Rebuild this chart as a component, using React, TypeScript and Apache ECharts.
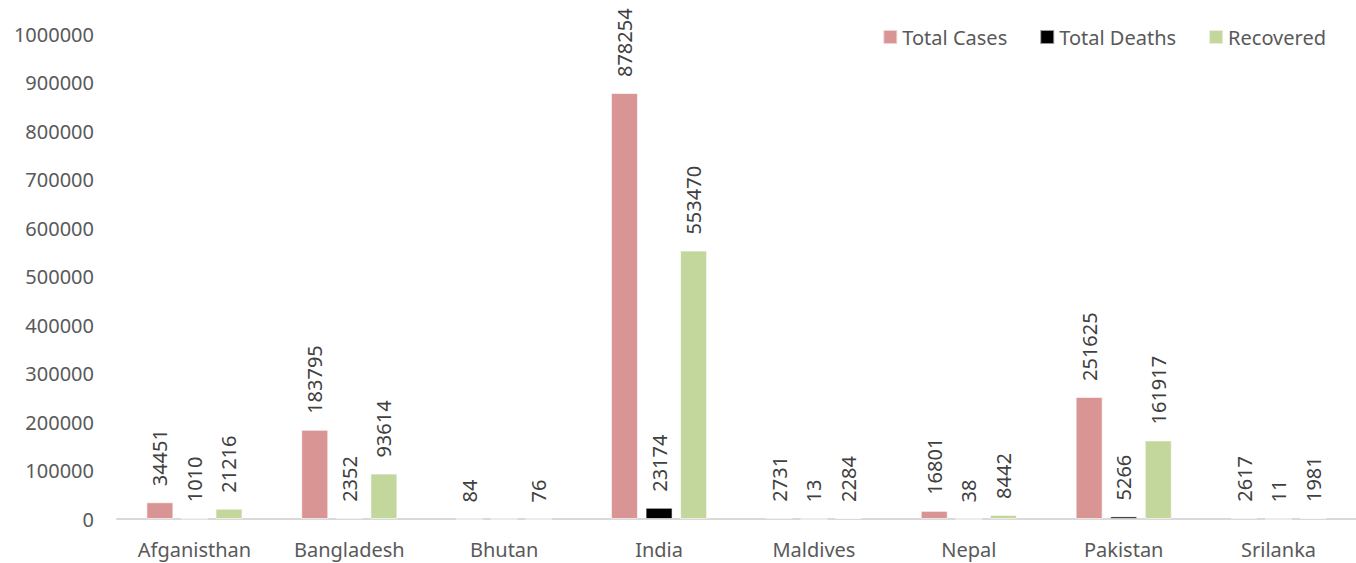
import React, { useEffect, useRef } from "react";
import * as echarts from "echarts";

const categories = ["Afganisthan", "Bangladesh", "Bhutan", "India", "Maldives", "Nepal", "Pakistan", "Srilanka"];
const totalCases = [34451, 183795, 84, 878254, 2731, 16801, 251625, 2617];
const totalDeaths = [1010, 2352, 0, 23174, 13, 38, 5266, 11];
const recovered = [21216, 93614, 76, 553470, 2284, 8442, 161917, 1981];

const FONT = "Noto Sans";

export default function App() {
  const ref = useRef<HTMLDivElement>(null);
  useEffect(() => {
    document.body.style.margin = "0";
    if (!ref.current) return;
    const chart = echarts.init(ref.current, undefined, { renderer: "svg" });
    const label = {
      show: true,
      position: "top",
      rotate: 90,
      align: "left",
      verticalAlign: "middle",
      distance: 16,
      fontFamily: FONT,
      fontSize: 20,
      color: "#404040",
      formatter: (p: any) => (p.value === 0 ? "" : String(p.value)),
    };
    const mk = (name: string, data: number[], color: string) => ({
      name,
      type: "bar",
      data,
      barWidth: 27,
      barGap: "28%",
      itemStyle: { color, borderColor: "rgba(255,255,255,0.6)", borderWidth: 1 },
      label,
    });
    chart.setOption({
      animation: false,
      textStyle: { fontFamily: FONT },
      legend: {
        right: 25,
        top: 22,
        itemWidth: 14,
        itemHeight: 14,
        itemGap: 32,
        icon: "rect",
        textStyle: { fontFamily: FONT, fontSize: 20, color: "#595959" },
        data: ["Total Cases", "Total Deaths", "Recovered"],
      },
      grid: { left: 117, right: -1, top: 34, bottom: 44, containLabel: false },
      xAxis: {
        type: "category",
        data: categories,
        axisTick: { show: false },
        axisLine: { lineStyle: { color: "#D9D9D9", width: 2 } },
        axisLabel: { fontFamily: FONT, fontSize: 20, color: "#595959", margin: 20, interval: 0 },
      },
      yAxis: {
        type: "value",
        min: 0,
        max: 1000000,
        interval: 100000,
        splitLine: { show: false },
        axisLine: { show: false },
        axisTick: { show: false },
        axisLabel: {
          fontFamily: FONT,
          fontSize: 20,
          color: "#595959",
          margin: 23,
          formatter: (v: number) => String(v),
        },
      },
      series: [
        mk("Total Cases", totalCases, "#D99594"),
        mk("Total Deaths", totalDeaths, "#000000"),
        mk("Recovered", recovered, "#C3D69B"),
      ],
    });
    return () => chart.dispose();
  }, []);
  return <div ref={ref} style={{ width: 1356, height: 563 }} />;
}
